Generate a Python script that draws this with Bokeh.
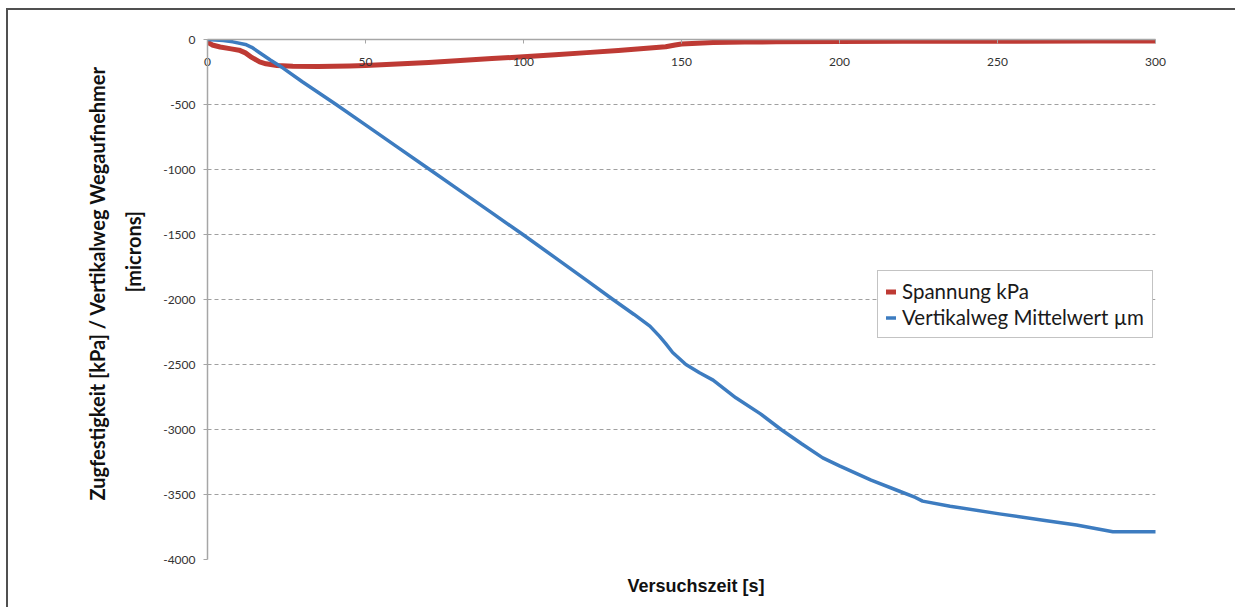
from bokeh.plotting import figure
from bokeh.models import FixedTicker, Legend, LegendItem, Title, PrintfTickFormatter
from bokeh.embed import file_html
from bokeh.resources import INLINE

# ---- data ----
time_spannung = [0, 1.5, 4, 7.5, 10, 12, 14, 16.5, 18.5, 22, 27, 35, 45, 50, 55, 60,
                 70, 80, 90, 100, 110, 120, 130, 140, 145, 148, 150, 155, 160, 170,
                 180, 200, 220, 250, 280, 300]
spannung_kpa = [-20, -42, -58, -72, -82, -103, -138, -172, -187, -200, -206, -207, -204,
                -200, -195, -188, -176, -162, -147, -133, -117, -101, -84, -65, -56,
                -42, -34, -28, -24, -20, -18, -16, -14, -13, -12, -12]

time_vertikal = [0, 5, 8, 12, 14, 16.5, 20, 23.8, 30, 40.7, 50, 60, 70.3, 80, 90, 99.8,
                 110, 120, 128.3, 135, 140, 143, 145, 147.2, 151.4, 155.7, 160, 167.2,
                 175, 181.5, 188, 194.7, 200, 210, 219, 224, 226.3, 235, 250.6, 265,
                 275, 286.5, 300]
vertikalweg_um = [0, -8, -18, -38, -60, -102, -160, -218, -325, -500, -657, -826, -1000,
                  -1164, -1334, -1500, -1678, -1853, -2000, -2115, -2205, -2282, -2340,
                  -2408, -2500, -2564, -2620, -2756, -2880, -3000, -3110, -3218, -3280,
                  -3390, -3475, -3523, -3551, -3590, -3649, -3700, -3735, -3787, -3787]

x_ticks = [0, 50, 100, 150, 200, 250, 300]
y_ticks = [-4000, -3500, -3000, -2500, -2000, -1500, -1000, -500, 0]

legend_labels = ["Spannung kPa", "Vertikalweg Mittelwert µm"]
x_title = "Versuchszeit [s]"
y_title_1 = "Zugfestigkeit [kPa] / Vertikalweg Wegaufnehmer"
y_title_2 = "[microns]"

RED = "#BE3A34"
BLUE = "#3D7CC0"
AXIS_GRAY = "#A6A6A6"
TICK_FONT = "Lato"

p = figure(frame_width=948, frame_height=520,
           x_range=(0, 300), y_range=(-4000, 0),
           x_axis_location="above",
           output_backend="svg", toolbar_location=None,
           min_border_left=199, min_border_top=29,
           min_border_right=80, min_border_bottom=46)
p.styles = {"margin-top": "8px", "margin-left": "6px",
            "border-top": "2px solid #505050", "border-left": "2px solid #505050"}
p.outline_line_color = None
p.background_fill_color = "white"
p.border_fill_color = "white"

# x axis along y = 0 (top of the plot area), ticks pointing down, labels beneath it
xa = p.xaxis[0]
xa.ticker = FixedTicker(ticks=x_ticks)
xa.formatter = PrintfTickFormatter(format="%d")
xa.axis_line_color = AXIS_GRAY
xa.axis_line_width = 1.5
xa.major_tick_line_color = AXIS_GRAY
xa.major_tick_out = 0
xa.major_tick_in = 4
xa.minor_tick_line_color = None
xa.major_label_standoff = -26
xa.major_label_text_font = TICK_FONT
xa.major_label_text_font_size = "12px"
xa.major_label_text_color = "#333333"

ya = p.yaxis[0]
ya.ticker = FixedTicker(ticks=y_ticks)
ya.formatter = PrintfTickFormatter(format="%d")
ya.axis_line_color = AXIS_GRAY
ya.axis_line_width = 1.5
ya.major_tick_line_color = AXIS_GRAY
ya.major_tick_out = 4
ya.major_tick_in = 0
ya.minor_tick_line_color = None
ya.major_label_standoff = 8
ya.major_label_text_font = TICK_FONT
ya.major_label_text_font_size = "12px"
ya.major_label_text_color = "#333333"
# blank spacer label to push the axis titles outwards
ya.axis_label = " "
ya.axis_label_text_font_size = "6px"
ya.axis_label_standoff = 2

p.xgrid.visible = False
p.ygrid.ticker = FixedTicker(ticks=y_ticks)
p.ygrid.grid_line_color = "#A0A0A0"
p.ygrid.grid_line_dash = "4 3"
p.ygrid.grid_line_width = 1

r_red = p.line(time_spannung, spannung_kpa, line_color=RED, line_width=5,
               line_join="round", line_cap="round")
r_blue = p.line(time_vertikal, vertikalweg_um, line_color=BLUE, line_width=3.5,
                line_join="round", line_cap="round")

legend = Legend(items=[LegendItem(label=legend_labels[0], renderers=[r_red]),
                       LegendItem(label=legend_labels[1], renderers=[r_blue])],
                location=(670, 221))
legend.border_line_color = "#878787"
legend.border_line_width = 1
legend.background_fill_color = "white"
legend.background_fill_alpha = 1
legend.padding = 8
legend.margin = 0
legend.spacing = 2
legend.glyph_width = 10
legend.glyph_height = 21
legend.label_height = 21
legend.label_standoff = 6
legend.label_text_font = "Lato"
legend.label_text_font_size = "20.5px"
legend.label_text_color = "#1a1a1a"
p.add_layout(legend)

# axis titles
tx = Title(text=x_title, align="left", offset=420, standoff=28,
           text_font="Liberation Sans",
           text_font_size="18px", text_font_style="bold", text_color="#111111")
p.add_layout(tx, "below")

ty2 = Title(text=y_title_2, align="left", offset=267,
            text_font="Lato",
            text_font_size="20px", text_font_style="bold", text_color="#111111")
p.add_layout(ty2, "left")
ty1 = Title(text=y_title_1, align="left", offset=59, text_font="Lato",
            text_font_size="20px", text_font_style="bold", text_color="#111111")
p.add_layout(ty1, "left")

open("out.html", "w").write(file_html(p, INLINE))
